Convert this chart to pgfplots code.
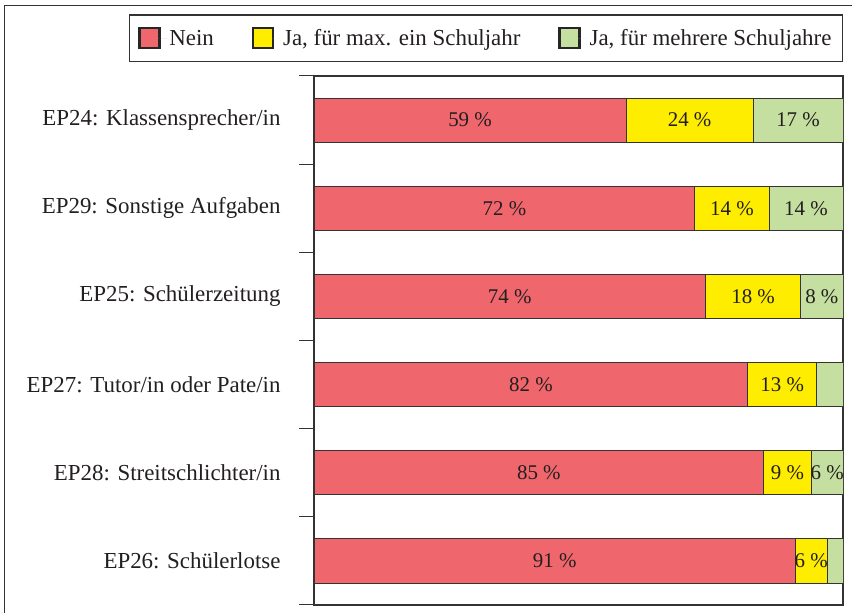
\documentclass[border=0pt]{standalone}
\usepackage{pgfplots}
\pgfplotsset{compat=1.18}
\usepackage{pgfplotstable}
\usepackage{fontspec}
\setmainfont{Liberation Serif}
\definecolor{cnein}{HTML}{F0666D}
\definecolor{cja}{HTML}{FFED00}
\definecolor{cmehr}{HTML}{C5DFA0}
\definecolor{txt}{HTML}{231F20}
\definecolor{frame}{HTML}{333333}
\pgfplotstableread{
y nein ja mehr
0 91 6 3
1 85 9 6
2 82 13 5
3 74 18 8
4 72 14 14
5 59 24 17
}\datatable

\pgfplotsset{
 common/.style={
   at={(314bp,8bp)}, anchor=south west, scale only axis, width=529bp, height=529bp,
   xmin=0, xmax=100, ymin=-0.5, ymax=5.5},
 lbl/.style={only marks, mark=none, point meta=explicit,
   nodes near coords={\pgfmathparse{\rawv<5.5 ? 0 : 1}\ifnum\pgfmathresult=1 \pgfmathprintnumber{\rawv}~\%\fi},
   every node near coord/.append style={font=\fontsize{21}{23}\selectfont, text=txt, anchor=center, inner sep=0pt}},
}

\begin{document}
\begin{tikzpicture}[x=1bp,y=1bp]
\useasboundingbox (0,0) rectangle (852,613);
\draw[line width=1.2bp, frame] (4.5,0) -- (4.5,607.5) -- (852,607.5);
\begin{axis}[
 common,
 xbar stacked, bar width=0.5,
 xtick=\empty,
 ytick={0,...,5},
 yticklabels={EP26: Schülerlotse, EP28: Streitschlichter/in, EP27: Tutor/in oder Pate/in, EP25: Schülerzeitung, EP29: Sonstige Aufgaben, EP24: Klassensprecher/in},
 major tick length=0pt,
 minor ytick={-0.5,0.5,...,5.5},
 minor tick length=15bp,
 tick align=outside,
 ytick pos=left,
 tick style={frame, line width=1bp},
 axis line style={frame, line width=1.2bp},
 yticklabel style={font=\fontsize{23}{25}\selectfont, text=txt, xshift=-30bp},
 every axis plot/.append style={draw=frame, line width=0.9bp},
 legend columns=3,
 legend style={at={(1,1.0265)}, anchor=south east, draw=frame, line width=1.2bp,
   font=\fontsize{23}{25}\selectfont, text=txt, inner xsep=9bp, inner ysep=12bp,
   /tikz/every even column/.append style={column sep=36bp}},
 legend image code/.code={\draw[#1, draw=black!85, line width=2.4bp] (0bp,-10bp) rectangle (20bp,10bp); \path[draw=none] (0bp,0bp) -- (28bp,0bp);},
]
\addplot[fill=cnein] table[x=nein, y=y] {\datatable};
\addplot[fill=cja] table[x=ja, y=y] {\datatable};
\addplot[fill=cmehr] table[x=mehr, y=y] {\datatable};
\legend{Nein, {Ja, für max. ein Schuljahr}, {Ja, für mehrere Schuljahre}}
\end{axis}
\begin{axis}[common, hide axis, /pgf/number format/assume math mode=true]
\addplot[lbl, visualization depends on={\thisrow{nein} \as \rawv}] table[x expr=\thisrow{nein}/2, y=y, meta=nein] {\datatable};
\addplot[lbl, visualization depends on={\thisrow{ja} \as \rawv}] table[x expr=\thisrow{nein}+\thisrow{ja}/2, y=y, meta=ja] {\datatable};
\addplot[lbl, visualization depends on={\thisrow{mehr} \as \rawv}] table[x expr=\thisrow{nein}+\thisrow{ja}+\thisrow{mehr}/2, y=y, meta=mehr] {\datatable};
\end{axis}
\end{tikzpicture}
\end{document}
